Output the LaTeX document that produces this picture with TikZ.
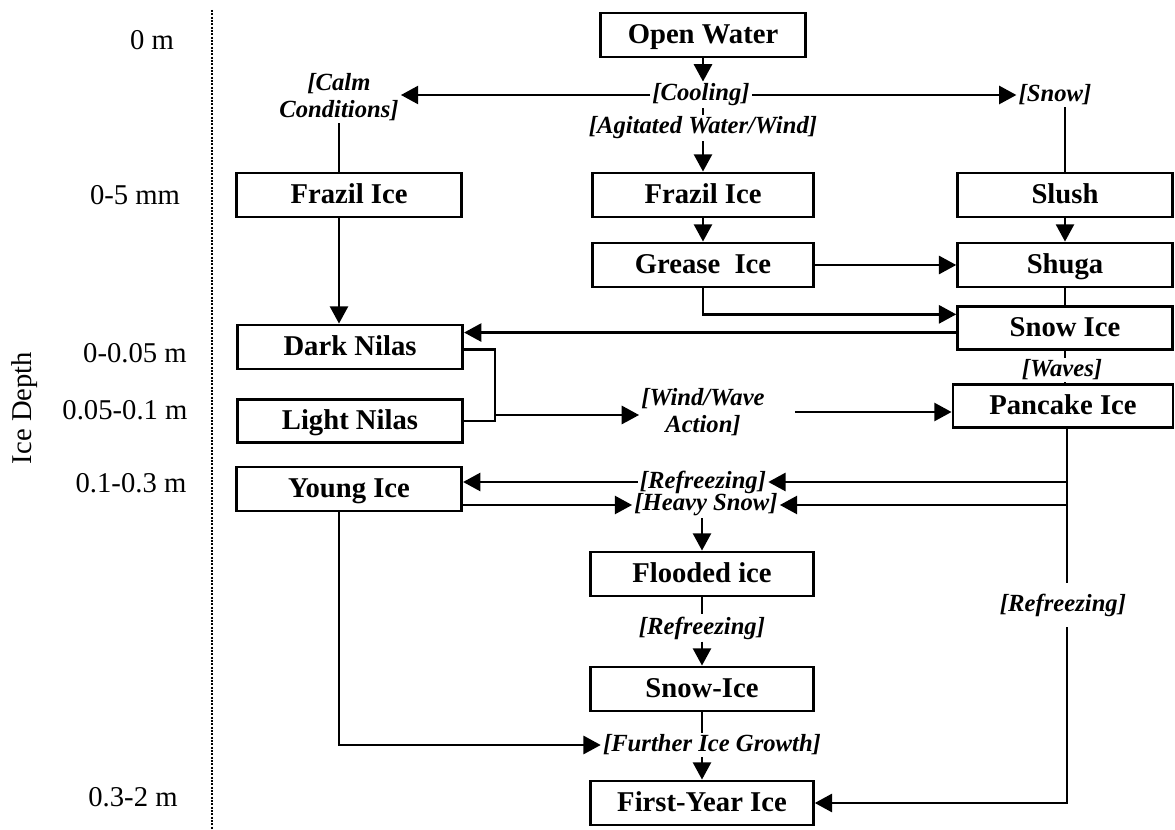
\documentclass[tikz,border=0pt]{standalone}
\usepackage{fontspec}
\setmainfont{Liberation Serif}
\usetikzlibrary{arrows.meta,calc}
\begin{document}
\begin{tikzpicture}[x=0.75pt,y=-0.75pt,
  box/.style={draw,line width=2.1pt,inner sep=0pt,minimum height=33pt,
    text height=14pt,text depth=1pt,
    font=\bfseries\fontsize{21.5}{25}\selectfont},
  cond/.style={inner sep=1.5pt,font=\bfseries\itshape\fontsize{18.5}{20.5}\selectfont,align=center},
  depth/.style={inner sep=0pt,font=\fontsize{21.5}{25}\selectfont},
  conn/.style={line width=2.1pt},
  arr/.style={line width=2.1pt,-{Triangle[length=13pt,width=13.5pt]}}]
\useasboundingbox (0,0) rectangle (1175,830);
% depth axis
\node[depth] (d0) at (152,40) {0 m};
\node[depth] (d1) at (135,195) {0-5 mm};
\node[depth] (d2) at (135,353) {0-0.05 m};
\node[depth] (d3) at (125,410) {0.05-0.1 m};
\node[depth] (d4) at (131,483) {0.1-0.3 m};
\node[depth] (d5) at (133,797) {0.3-2 m};
\node[depth,rotate=90] (idl) at (25,408) {Ice Depth};
\coordinate (axtop) at (212,10);
\coordinate (axbot) at (212,830);
\draw[line width=1.2pt,dash pattern=on 1.5pt off 1pt] (axtop) -- (axbot);
% boxes
\node[box,minimum width=154pt] (ow) at (703,35) {Open Water};
\node[box,minimum width=169pt] (fzl) at (349,195) {Frazil Ice};
\node[box,minimum width=166pt] (fzm) at (703,195) {Frazil Ice};
\node[box,minimum width=161pt] (sl) at (1065,195) {Slush};
\node[box,minimum width=166pt] (gi) at (703,265) {Grease\enspace Ice};
\node[box,minimum width=161pt] (sh) at (1065,265) {Shuga};
\node[box,minimum width=161pt,minimum height=32pt] (sn) at (1065,328) {Snow Ice};
\node[box,minimum width=169pt] (dn) at (350,347) {Dark Nilas};
\node[box,minimum width=165pt,minimum height=32pt] (pc) at (1063,406) {Pancake Ice};
\node[box,minimum width=169pt,minimum height=32pt] (ln) at (350,421) {Light Nilas};
\node[box,minimum width=169pt] (yi) at (349,489) {Young Ice};
\node[box,minimum width=167pt] (fi) at (702,574) {Flooded ice};
\node[box,minimum width=167pt] (si2) at (702,689) {Snow-Ice};
\node[box,minimum width=167pt] (fy) at (702,803) {First-Year Ice};
% condition labels
\node[cond] (cool) at (701,95) {[Cooling]};
\node[cond] (cc) at (339,97) {[Calm\\Conditions]};
\node[cond] (snowl) at (1055,95) {[Snow]};
\node[cond] (agw) at (703,128) {[Agitated Water/Wind]};
\node[cond] (waves) at (1062,370) {[Waves]};
\node[cond] (wwa) at (703,412) {[Wind/Wave\\Action]};
\node[cond] (ref1) at (703,482) {[Refreezing]};
\node[cond] (hs) at (706,505) {[Heavy Snow]};
\node[cond] (ref2) at (702,628) {[Refreezing]};
\node[cond] (fig) at (712,745) {[Further Ice Growth]};
\node[cond,inner ysep=8pt] (ref3) at (1063,605) {[Refreezing]};
% helper points on box sides
\coordinate (gs) at ($(sn.north west)!0.2!(sn.south west)$);
\coordinate (sw) at ($(sn.north west)!0.6!(sn.south west)$);
\coordinate (de) at ($(dn.north east)!0.55!(dn.south east)$);
\coordinate (jn) at (495,415);
\coordinate (wx) at ($(wwa.east)+(28,0)$);
\coordinate (pcx) at ($(pc.south)+(4,0)$);
% connectors
\draw[arr] (ow.south) -- (ow.south |- cool.north);
\draw[arr] (cool.west) -- (cool.west -| cc.east);
\draw[arr] (cool.east) -- (snowl.west);
\draw[conn] (cool.south -| ow.south) -- (agw.north -| ow.south);
\draw[arr] (agw.south -| fzm.north) -- (fzm.north);
\draw[conn] (cc.south) -- (cc.south |- fzl.north);
\draw[conn] (sl.north |- snowl.south) -- (sl.north);
\draw[arr] (cc |- fzl.south) -- (cc |- dn.north);
\draw[arr] (fzm.south) -- (gi.north);
\draw[arr] (sl.south) -- (sh.north);
\draw[arr] (gi.east) -- (sh.west);
\draw[arr] (gi.south) |- (gs);
\draw[conn] (sh.south) -- (sn.north);
\draw[arr] (sw) -- (sw -| dn.east);
\draw[conn] (sn.south) -- (sn.south |- waves.north);
\draw[conn] (sn.south |- waves.south) -- (sn.south |- pc.north);
\draw[conn] (de) -| (jn) |- (ln.east);
\draw[arr] (jn) -- (jn -| wwa.west);
\draw[arr] (wx) -- (wx -| pc.west);
\draw[conn] (pcx) -- (pcx |- ref3.north);
\draw[arr] (pcx |- ref3.south) |- (fy.east);
\draw[arr] (pcx |- ref1.east) -- (ref1.east);
\draw[arr] (pcx |- hs.east) -- (hs.east);
\draw[arr] (ref1.west) -- (ref1.west -| yi.east);
\draw[arr] (yi.east |- hs.west) -- (hs.west);
\draw[arr] (fi.north |- hs.south) -- (fi.north);
\draw[conn] (fi.south) -- (ref2.north -| fi.south);
\draw[arr] (ref2.south -| si2.north) -- (si2.north);
\draw[conn] (si2.south) -- (si2.south |- fig.north);
\draw[arr] (fy.north |- fig.south) -- (fy.north);
\draw[arr] (cc |- yi.south) |- (fig.west);
\end{tikzpicture}
\end{document}
